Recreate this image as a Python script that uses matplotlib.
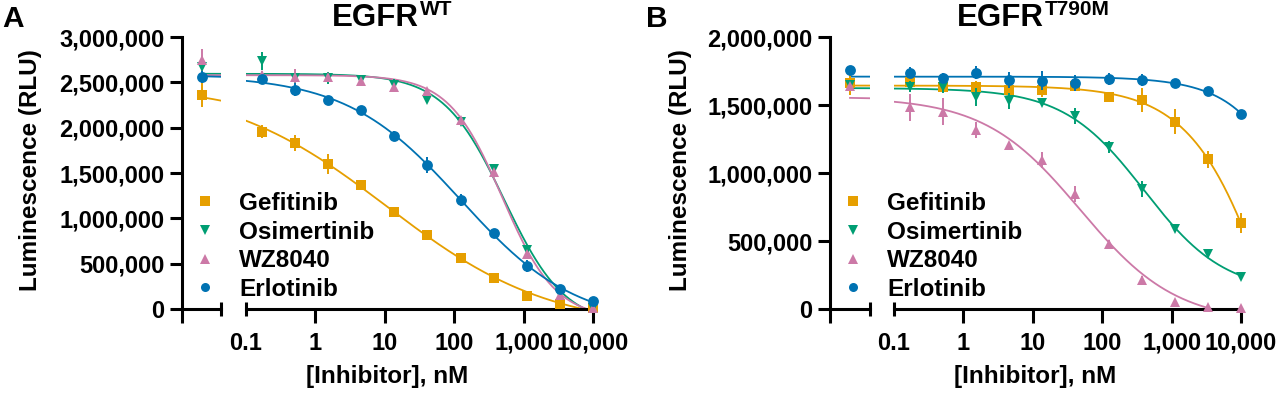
import numpy as np
import matplotlib
matplotlib.use("Agg")
import matplotlib.pyplot as plt
from matplotlib.lines import Line2D
from matplotlib.ticker import FixedLocator, FuncFormatter, LogLocator, NullFormatter

plt.rcParams['font.family'] = ['Liberation Sans', 'DejaVu Sans']
plt.rcParams['font.weight'] = 'bold'

# ---------------- data ----------------
conc_nM = [0.169, 0.508, 1.524, 4.572, 13.72, 41.15, 123.5, 370.4, 1111, 3333, 10000]
ctrl_conc_nM = 0.005          # nominal position of the no-inhibitor control
drugs = ["Gefitinib", "Osimertinib", "WZ8040", "Erlotinib"]
colors = ["#E69F00", "#009E73", "#CC79A7", "#0072B2"]
markers = ["s", "v", "^", "o"]

# Panel A: EGFR WT  (RLU)
ctrl_A = [2360000, 2665000, 2750000, 2555000]
gef_A = [1955000, 1827000, 1599000, 1367000, 1074000, 816000, 559000, 338000, 147000, 55000, 15000]
osi_A = [2740000, 2550000, 2545000, 2525000, 2470000, 2305000, 2066000, 1540000, 650000, 160000, 10000]
wz_A = [2580000, 2560000, 2560000, 2520000, 2450000, 2400000, 2090000, 1515000, 607000, 150000, 10000]
erl_A = [2533000, 2420000, 2305000, 2195000, 1908000, 1588000, 1202000, 842000, 474000, 220000, 88000]
ctrl_err_A = [130000, 50000, 120000, 65000]
gef_err_A = [73000, 88000, 107000, 20000, 55000, 20000, 20000, 15000, 10000, 10000, 10000]
osi_err_A = [100000, 40000, 65000, 30000, 65000, 30000, 30000, 50000, 40000, 20000, 10000]
wz_err_A = [40000, 90000, 30000, 30000, 30000, 30000, 30000, 30000, 50000, 20000, 10000]
erl_err_A = [30000, 75000, 20000, 20000, 60000, 90000, 70000, 20000, 70000, 20000, 20000]

# Panel B: EGFR T790M (RLU)
ctrl_B = [1659000, 1650000, 1640000, 1757000]
gef_B = [1672000, 1635000, 1635000, 1610000, 1610000, 1640000, 1561000, 1537000, 1377000, 1100000, 630000]
osi_B = [1635000, 1630000, 1560000, 1530000, 1517000, 1419000, 1193000, 880000, 586000, 404000, 233000]
wz_B = [1483000, 1451000, 1316000, 1206000, 1096000, 843000, 475000, 213000, 54000, 12000, 10000]
erl_B = [1738000, 1696000, 1738000, 1684000, 1679000, 1664000, 1689000, 1684000, 1664000, 1603000, 1434000]
ctrl_err_B = [83000, 30000, 20000, 20000]
gef_err_B = [50000, 40000, 40000, 40000, 50000, 40000, 30000, 85000, 93000, 65000, 73000]
osi_err_B = [40000, 40000, 64000, 60000, 20000, 60000, 45000, 60000, 20000, 20000, 20000]
wz_err_B = [98000, 100000, 58000, 20000, 60000, 58000, 30000, 30000, 10000, 10000, 10000]
erl_err_B = [42000, 37000, 50000, 60000, 70000, 60000, 45000, 45000, 20000, 20000, 20000]

y_ticks_A = [0, 500000, 1000000, 1500000, 2000000, 2500000, 3000000]
y_ticks_B = [0, 500000, 1000000, 1500000, 2000000]
x_ticks = [0.1, 1, 10, 100, 1000, 10000]
x_tick_labels = ["0.1", "1", "10", "100", "1,000", "10,000"]


# ---------------- 4-parameter logistic fit ----------------
def f4(p, lx):
    top, bot, lc, h = p
    return bot + (top - bot) / (1.0 + 10.0 ** np.clip((lx - lc) * h, -60, 60))


def fit4(lx, y):
    y0, y1 = y.max(), y.min()
    lc0 = lx[np.argmin(np.abs(y - (y0 + y1) / 2))]
    p = np.array([y0, y1, lc0, 1.0])
    sse = lambda q: np.sum((y - f4(q, lx)) ** 2)
    s = sse(p)
    lam = 1e-2
    for _ in range(3000):
        r = y - f4(p, lx)
        J = np.empty((len(lx), 4))
        for k in range(4):
            d = np.zeros(4)
            d[k] = 1e-6 * max(1.0, abs(p[k]))
            J[:, k] = (f4(p + d, lx) - f4(p - d, lx)) / (2 * d[k])
        A = J.T @ J
        g = J.T @ r
        try:
            step = np.linalg.solve(A + lam * np.diag(np.diag(A) + 1e-12), g)
        except np.linalg.LinAlgError:
            break
        q = p + step
        q[3] = np.clip(q[3], 0.2, 5.0)
        sq = sse(q)
        if sq < s:
            p, s = q, sq
            lam = max(lam / 3, 1e-12)
        else:
            lam *= 4
            if lam > 1e12:
                break
    return p


# ---------------- figure ----------------
W, H = 1280, 395
fig = plt.figure(figsize=(W / 100, H / 100), dpi=100)
renderer = fig.canvas.get_renderer()

Y0, Y1 = 309, 37   # pixel rows of y=0 and y=top


def box(x0, x1):
    return [x0 / W, (H - Y0) / H, (x1 - x0) / W, (Y0 - Y1) / H]


LW = 2.2
TICK_FS = 17
LABEL_FS = 17.5
seg_half = 0.28  # decades either side of control in the first segment


def super_title(cx, main, sup):
    t1 = fig.text(0, 1 - 26 / H, main, ha="left", va="baseline", fontsize=22.5, fontweight="bold")
    t2 = fig.text(0, 1 - 15 / H, sup, ha="left", va="baseline", fontsize=15, fontweight="bold")
    w1 = t1.get_window_extent(renderer).width
    w2 = t2.get_window_extent(renderer).width
    x0 = cx - (w1 + w2 + 1) / 2
    t1.set_x(x0 / W)
    t2.set_x((x0 + w1 + 1) / W)


def draw_panel(xpix, ctrl, series, errs, ctrl_err, yticks, letter, title, ylab_x, title_x, leg_x):
    s1l, s1r, s2l, s2r = xpix
    ymax = yticks[-1]
    ax1 = fig.add_axes(box(s1l, s1r))
    ax2 = fig.add_axes(box(s2l, s2r))
    for ax in (ax1, ax2):
        ax.set_xscale("log")
        ax.set_ylim(0, ymax)
        ax.patch.set_visible(False)
        for sp in ("top", "right"):
            ax.spines[sp].set_visible(False)
        ax.spines["bottom"].set_linewidth(LW)
        ax.spines["left"].set_linewidth(LW)
    ax1.set_xlim(ctrl_conc_nM / 10 ** seg_half, ctrl_conc_nM * 10 ** seg_half)
    ax2.set_xlim(x_ticks[0], x_ticks[-1])
    ax2.spines["left"].set_visible(False)
    ax2.tick_params(axis="y", left=False, labelleft=False)

    # y axis
    ax1.yaxis.set_major_locator(FixedLocator(yticks))
    ax1.yaxis.set_major_formatter(FuncFormatter(lambda v, pos: f"{v:,.0f}"))
    ax1.tick_params(axis="y", direction="out", length=9, width=LW, labelsize=TICK_FS, pad=3.5)

    # x axis, first segment: tick at left end, break mark at right end
    lo, hi = ax1.get_xlim()
    ax1.xaxis.set_major_locator(FixedLocator([lo]))
    ax1.xaxis.set_minor_locator(FixedLocator([]))
    ax1.tick_params(axis="x", direction="out", length=10, width=LW, labelbottom=False)
    ax1.plot([hi], [0], marker="|", ms=10.5, mew=LW, color="k", clip_on=False, zorder=5)

    # x axis, second segment
    ax2.xaxis.set_major_locator(FixedLocator(x_ticks))
    ax2.set_xticklabels(x_tick_labels)
    ax2.xaxis.set_minor_locator(LogLocator(base=10, subs=np.arange(2, 10)))
    ax2.xaxis.set_minor_formatter(NullFormatter())
    ax2.tick_params(axis="x", which="major", direction="out", length=10, width=LW,
                    labelsize=TICK_FS, pad=6.5)
    ax2.tick_params(axis="x", which="minor", direction="out", length=4.5, width=1.6)
    ticks = ax2.xaxis.get_major_ticks(len(x_ticks))
    ticks[0].tick1line.set_visible(False)
    ax2.plot([x_ticks[0]], [0], marker="|", ms=10.5, mew=LW, color="k", clip_on=False, zorder=5)

    # data
    lx = np.log10(np.array(conc_nM))
    curve_lx = np.linspace(np.log10(ctrl_conc_nM), np.log10(conc_nM[-1]), 600)
    order = [0, 2, 1, 3]
    for i in order:
        y = np.array(series[i], float)
        e = np.array(errs[i], float)
        fx = np.concatenate([[np.log10(ctrl_conc_nM)], lx])
        fy = np.concatenate([[ctrl[i]], y]) / 1e6
        p = fit4(fx, fy)
        cy = f4(p, curve_lx) * 1e6
        for ax in (ax1, ax2):
            ax.plot(10 ** curve_lx, cy, color=colors[i], lw=1.3, zorder=2 + i * 0.1)
        c = ax2.errorbar(conc_nM, y, yerr=e, fmt=markers[i], color=colors[i], ms=7.8,
                         mew=0, capsize=4, elinewidth=1.4, capthick=1.4, zorder=3 + i * 0.1)
        c1 = ax1.errorbar([ctrl_conc_nM], [ctrl[i]], yerr=[ctrl_err[i]], fmt=markers[i],
                          color=colors[i], ms=7.8, mew=0, capsize=4, elinewidth=1.4,
                          capthick=1.4, zorder=3 + i * 0.1)
        for cont in (c, c1):
            for art in cont.get_children():
                art.set_clip_on(False)

    # legend
    handles = [Line2D([], [], linestyle="none", marker=markers[i], color=colors[i], ms=6.5, mew=0)
               for i in range(4)]
    fig.legend(handles, drugs, loc="upper left", bbox_to_anchor=(leg_x / W, 1 - 192 / H),
               frameon=False, borderpad=0, borderaxespad=0, handlelength=1.0,
               handletextpad=0.9, labelspacing=0.23, fontsize=17.5)

    # texts
    fig.text(ylab_x / W, 1 - 170 / H, "Luminescence (RLU)", rotation=90, ha="center",
             va="center", fontsize=LABEL_FS, fontweight="bold")
    super_title(title_x, *title)
    fig.text((xpix[0] + xpix[3]) / 2 / W, 1 - 377 / H, "[Inhibitor], nM", ha="center",
             va="center", fontsize=LABEL_FS, fontweight="bold")
    fig.text(letter[1] / W, 1 - 27 / H, letter[0], ha="left", va="baseline",
             fontsize=21.5, fontweight="bold")


draw_panel((182, 221, 246, 593), ctrl_A,
           [gef_A, osi_A, wz_A, erl_A], [gef_err_A, osi_err_A, wz_err_A, erl_err_A], ctrl_err_A,
           y_ticks_A, ("A", 2), ("EGFR", "WT"), 31, 392, 193)
draw_panel((830, 870, 894, 1241), ctrl_B,
           [gef_B, osi_B, wz_B, erl_B], [gef_err_B, osi_err_B, wz_err_B, erl_err_B], ctrl_err_B,
           y_ticks_B, ("B", 646), ("EGFR", "T790M"), 681, 1033, 841)

fig.savefig("out.png", dpi=100)
